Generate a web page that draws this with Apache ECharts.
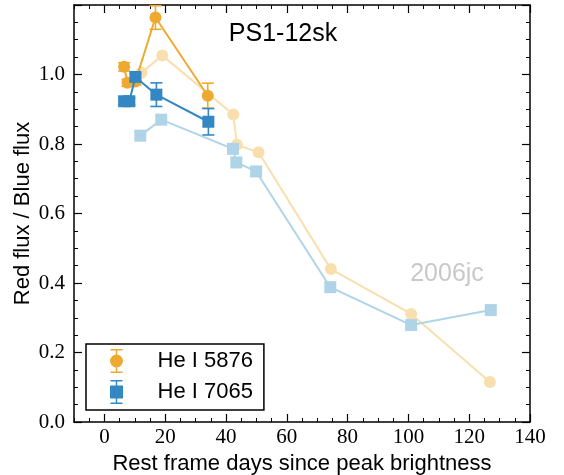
<!DOCTYPE html>
<html>
<head>
<meta charset="utf-8">
<script src="https://cdn.jsdelivr.net/npm/echarts@6/dist/echarts.min.js"></script>
<style>html,body{margin:0;padding:0;background:#fff}#c{width:564px;height:475px}</style>
</head>
<body>
<div id="c"></div>
<script>
// ---- data ----
const xTicks = [0, 20, 40, 60, 80, 100, 120, 140];
const yTicks = [0.0, 0.2, 0.4, 0.6, 0.8, 1.0];

// PS1-12sk He I 5876
const days5876 = [6.5, 7.6, 10.2, 16.8, 34.0];
const ratio5876 = [1.022, 0.976, 0.980, 1.164, 0.939];
const err5876 = [0.012, 0.010, 0.010, 0.034, 0.036];

// PS1-12sk He I 7065
const days7065 = [6.5, 8.2, 10.2, 17.1, 34.2];
const ratio7065 = [0.923, 0.923, 0.993, 0.942, 0.864];
const err7065 = [0.010, 0.010, 0.010, 0.034, 0.038];

// SN 2006jc He I 5876
const daysJc5876 = [12.2, 19.0, 42.4, 43.6, 50.7, 74.5, 100.9, 126.8];
const ratioJc5876 = [1.005, 1.055, 0.885, 0.798, 0.776, 0.440, 0.311, 0.115];

// SN 2006jc He I 7065
const daysJc7065 = [11.8, 18.7, 42.3, 43.4, 49.9, 74.3, 100.9, 127.1];
const ratioJc7065 = [0.824, 0.870, 0.786, 0.747, 0.721, 0.388, 0.279, 0.322];

const names = ['He I 5876', 'He I 7065'];
// ---------------------------------------

const ORANGE = '#EEAA30', BLUE = '#3388C4', LORANGE = '#F9DFAE', LBLUE = '#AFD4E8';
const zip = (a, b) => a.map((v, i) => [v, b[i]]);
const zip3 = (a, b, c) => a.map((v, i) => [v, b[i], c[i]]);

const serif = 'Liberation Serif';
const sans = 'Liberation Sans';

function errRender(color) {
  return function (params, api) {
    const x = api.value(0), y = api.value(1), e = api.value(2);
    const t = api.coord([x, y + e]), b = api.coord([x, y - e]);
    const cw = 6;
    const st = { stroke: color, lineWidth: 1.6 };
    return {
      type: 'group', children: [
        { type: 'line', shape: { x1: t[0], y1: t[1], x2: b[0], y2: b[1] }, style: st },
        { type: 'line', shape: { x1: t[0] - cw, y1: t[1], x2: t[0] + cw, y2: t[1] }, style: st },
        { type: 'line', shape: { x1: b[0] - cw, y1: b[1], x2: b[0] + cw, y2: b[1] }, style: st }
      ]
    };
  };
}

const iconCircle = 'path://M0,0h12v1.5h-12z M0,22.5h12v1.5h-12z M5.25,0h1.5v24h-1.5z M-0.5,12a6.5,6.5 0 1,1 13,0a6.5,6.5 0 1,1 -13,0z';
const iconSquare = 'path://M0,0h12v1.5h-12z M0,22.5h12v1.5h-12z M5.25,0h1.5v24h-1.5z M-0.5,5.5h13v13h-13z';

const axLine = { show: true, onZero: false, lineStyle: { color: '#000', width: 1.5 } };
const majorTick = { show: true, inside: true, length: 8, lineStyle: { color: '#000', width: 1.2 } };
const minorTickStyle = { show: true, inside: true, length: 4, lineStyle: { color: '#000', width: 1 } };

function xAx(pos, major, showLabels) {
  const a = {
    type: 'value', position: pos, min: -10, max: 140,
    axisLine: axLine, splitLine: { show: false },
  };
  if (major) {
    a.axisTick = Object.assign({ customValues: xTicks }, majorTick);
    a.axisLabel = showLabels
      ? { show: true, customValues: xTicks, fontFamily: serif, fontSize: 21, color: '#000', margin: 5 }
      : { show: false };
  } else {
    a.interval = 5;
    a.axisLine = { show: false, onZero: false };
    a.axisTick = minorTickStyle;
    a.axisLabel = { show: false };
  }
  return a;
}
function yAx(pos, showLabels) {
  return {
    type: 'value', position: pos, min: 0, max: 1.2, interval: 0.2,
    axisLine: axLine, splitLine: { show: false },
    axisTick: majorTick,
    minorTick: { show: true, splitNumber: 4, length: 4, lineStyle: { color: '#000', width: 1 } },
    minorSplitLine: { show: false },
    axisLabel: showLabels
      ? { show: true, customValues: yTicks, formatter: v => v.toFixed(1), fontFamily: serif, fontSize: 21, color: '#000', margin: 9 }
      : { show: false }
  };
}

const xAxes = [xAx('bottom', true, true), xAx('bottom', false), xAx('top', true, false), xAx('top', false)];
xAxes[0].name = 'Rest frame days since peak brightness';
xAxes[0].nameLocation = 'middle';
xAxes[0].nameGap = 28;
xAxes[0].nameTextStyle = { fontFamily: sans, fontSize: 22, color: '#000' };
const yAxes = [yAx('left', true), yAx('right', false)];
yAxes[0].name = 'Red flux / Blue flux';
yAxes[0].nameLocation = 'middle';
yAxes[0].nameGap = 40;
yAxes[0].nameMoveOverlap = false;
yAxes[0].nameTextStyle = { fontFamily: sans, fontSize: 22, color: '#000' };

const chart = echarts.init(document.getElementById('c'), null, { renderer: 'canvas' });
chart.setOption({
  animation: false,
  backgroundColor: '#fff',
  grid: { left: 74, right: 34, top: 5, bottom: 53, containLabel: false, outerBoundsMode: 'none' },
  xAxis: xAxes,
  yAxis: yAxes,
  legend: {
    left: 86, top: 344, orient: 'vertical',
    padding: [5, 11, 6, 24],
    borderColor: '#000', borderWidth: 1.5, borderRadius: 0,
    itemWidth: 14, itemHeight: 24, itemGap: 7,
    symbolKeepAspect: true,
    selectedMode: false,
    data: [{ name: names[0], icon: iconCircle }, { name: names[1], icon: iconSquare }],
    formatter: n => '{t|' + n + '}',
    textStyle: {
      color: '#000', fontFamily: sans, fontSize: 22,
      rich: { t: { fontFamily: sans, fontSize: 22, color: '#000', padding: [0, 0, 0, 29], lineHeight: 22 } }
    }
  },
  graphic: [
    { type: 'text', x: 283, y: 34, style: { text: 'PS1-12sk', fontFamily: sans, fontSize: 25, fill: '#000', textAlign: 'center', textVerticalAlign: 'middle' } },
    { type: 'text', x: 447, y: 274, style: { text: '2006jc', fontFamily: sans, fontSize: 25, fill: '#C9C9C9', textAlign: 'center', textVerticalAlign: 'middle' } }
  ],
  series: [
    { name: '2006jc 5876', type: 'line', z: 2, data: zip(daysJc5876, ratioJc5876), symbol: 'circle', symbolSize: 12,
      itemStyle: { color: LORANGE }, lineStyle: { color: LORANGE, width: 2 } },
    { name: '2006jc 7065', type: 'line', z: 3, data: zip(daysJc7065, ratioJc7065), symbol: 'rect', symbolSize: 12,
      itemStyle: { color: LBLUE }, lineStyle: { color: LBLUE, width: 2 } },
    { name: names[0], type: 'custom', z: 4, renderItem: errRender(ORANGE), data: zip3(days5876, ratio5876, err5876),
      itemStyle: { color: ORANGE }, encode: { x: 0, y: 1 } },
    { name: names[0], type: 'line', z: 5, data: zip(days5876, ratio5876), symbol: 'circle', symbolSize: 12,
      itemStyle: { color: ORANGE }, lineStyle: { color: ORANGE, width: 2 } },
    { name: names[1], type: 'custom', z: 6, renderItem: errRender(BLUE), data: zip3(days7065, ratio7065, err7065),
      itemStyle: { color: BLUE }, encode: { x: 0, y: 1 } },
    { name: names[1], type: 'line', z: 7, data: zip(days7065, ratio7065), symbol: 'rect', symbolSize: 12,
      itemStyle: { color: BLUE }, lineStyle: { color: BLUE, width: 2 } }
  ]
});
</script>
</body>
</html>
